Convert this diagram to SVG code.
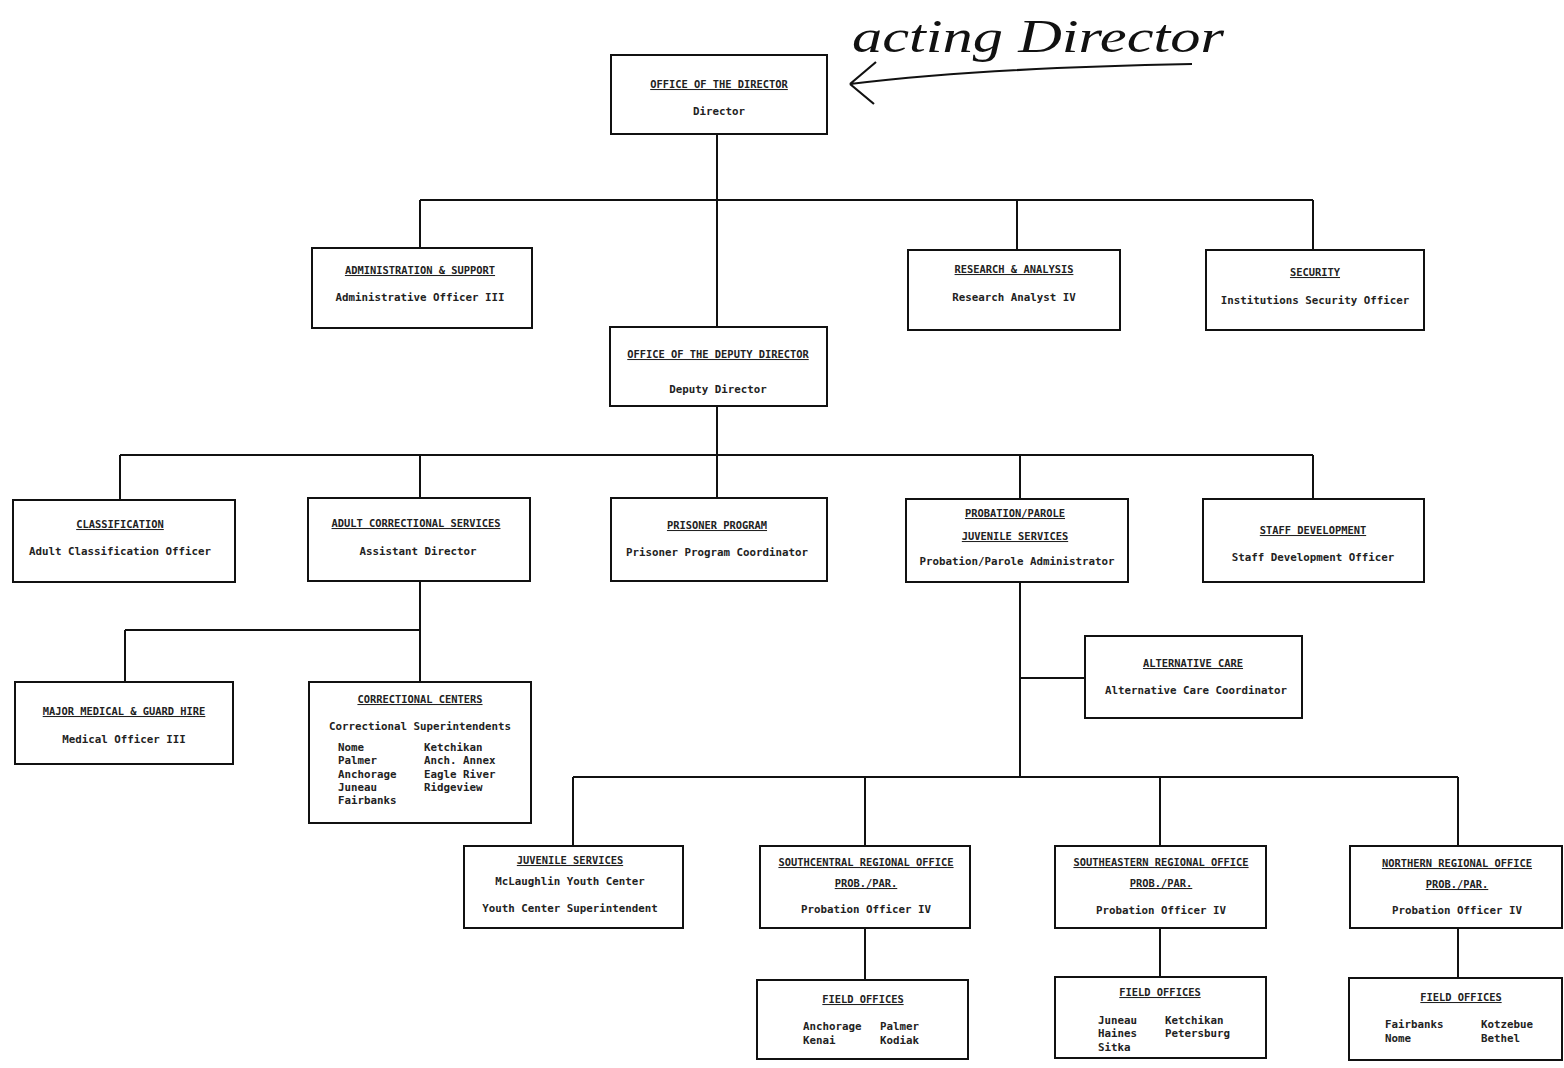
<svg xmlns="http://www.w3.org/2000/svg" width="1564" height="1068" viewBox="0 0 1564 1068">
<style>
.bx{fill:#fff;stroke:#111;stroke-width:2}
.t{font-family:"DejaVu Sans Mono","Liberation Mono",monospace;font-weight:bold;font-size:10.8px;fill:#222;text-anchor:middle}
.u{text-decoration:underline;font-size:10.4px}
.l{text-anchor:start}
.c{fill:none;stroke:#111;stroke-width:2}
.hw{font-family:"Liberation Serif",serif;font-style:italic;font-size:46px;fill:#111}
</style>
<rect width="1564" height="1068" fill="#fff"/>
<g id="connectors">
<path class="c" d="M717 134V327M420 200H1313M420 200V248M1017 200V250M1313 200V250"/>
<path class="c" d="M717 406V455M120 455H1313M120 455V500M420 455V498M717 455V498M1020 455V499M1313 455V499"/>
<path class="c" d="M420 581V630M125 630H420M125 630V682M420 630V682"/>
<path class="c" d="M1020 582V777M1020 678H1085M573 777H1458M573 777V846M865 777V846M1160 777V846M1458 777V846"/>
<path class="c" d="M865 928V980M1160 928V977M1458 928V978"/>
</g>
<g id="annotation">
<text class="hw" x="852" y="52" textLength="372" lengthAdjust="spacingAndGlyphs">acting Director</text>
<path d="M1192 64 C1080 66 950 72 850 84 M850 84 L876 62 M850 84 L874 104" fill="none" stroke="#111" stroke-width="2.2"/>
</g>
<g id="director"><rect class="bx" x="611" y="55" width="216" height="79"/>
<text class="t u" x="719" y="88">OFFICE OF THE DIRECTOR</text><text class="t" x="719" y="115">Director</text></g>
<g id="admin"><rect class="bx" x="312" y="248" width="220" height="80"/>
<text class="t u" x="420" y="274">ADMINISTRATION &amp; SUPPORT</text><text class="t" x="420" y="301">Administrative Officer III</text></g>
<g id="research"><rect class="bx" x="908" y="250" width="212" height="80"/>
<text class="t u" x="1014" y="273">RESEARCH &amp; ANALYSIS</text><text class="t" x="1014" y="301">Research Analyst IV</text></g>
<g id="security"><rect class="bx" x="1206" y="250" width="218" height="80"/>
<text class="t u" x="1315" y="276">SECURITY</text><text class="t" x="1315" y="304">Institutions Security Officer</text></g>
<g id="deputy"><rect class="bx" x="610" y="327" width="217" height="79"/>
<text class="t u" x="718" y="358">OFFICE OF THE DEPUTY DIRECTOR</text><text class="t" x="718" y="393">Deputy Director</text></g>
<g id="classification"><rect class="bx" x="13" y="500" width="222" height="82"/>
<text class="t u" x="120" y="528">CLASSIFICATION</text><text class="t" x="120" y="555">Adult Classification Officer</text></g>
<g id="adult"><rect class="bx" x="308" y="498" width="222" height="83"/>
<text class="t u" x="416" y="527">ADULT CORRECTIONAL SERVICES</text><text class="t" x="418" y="555">Assistant Director</text></g>
<g id="prisoner"><rect class="bx" x="611" y="498" width="216" height="83"/>
<text class="t u" x="717" y="529">PRISONER PROGRAM</text><text class="t" x="717" y="556">Prisoner Program Coordinator</text></g>
<g id="probation"><rect class="bx" x="906" y="499" width="222" height="83"/>
<text class="t u" x="1015" y="517">PROBATION/PAROLE</text><text class="t u" x="1015" y="540">JUVENILE SERVICES</text><text class="t" x="1017" y="565">Probation/Parole Administrator</text></g>
<g id="staff"><rect class="bx" x="1203" y="499" width="221" height="83"/>
<text class="t u" x="1313" y="534">STAFF DEVELOPMENT</text><text class="t" x="1313" y="561">Staff Development Officer</text></g>
<g id="medical"><rect class="bx" x="15" y="682" width="218" height="82"/>
<text class="t u" x="124" y="715">MAJOR MEDICAL &amp; GUARD HIRE</text><text class="t" x="124" y="743">Medical Officer III</text></g>
<g id="correctional"><rect class="bx" x="309" y="682" width="222" height="141"/>
<text class="t u" x="420" y="703">CORRECTIONAL CENTERS</text><text class="t" x="420" y="730">Correctional Superintendents</text>
<text class="t l" x="338" y="751">Nome</text><text class="t l" x="338" y="764">Palmer</text><text class="t l" x="338" y="778">Anchorage</text><text class="t l" x="338" y="791">Juneau</text><text class="t l" x="338" y="804">Fairbanks</text>
<text class="t l" x="424" y="751">Ketchikan</text><text class="t l" x="424" y="764">Anch. Annex</text><text class="t l" x="424" y="778">Eagle River</text><text class="t l" x="424" y="791">Ridgeview</text></g>
<g id="altcare"><rect class="bx" x="1085" y="636" width="217" height="82"/>
<text class="t u" x="1193" y="667">ALTERNATIVE CARE</text><text class="t" x="1196" y="694">Alternative Care Coordinator</text></g>
<g id="juvenile"><rect class="bx" x="464" y="846" width="219" height="82"/>
<text class="t u" x="570" y="864">JUVENILE SERVICES</text><text class="t" x="570" y="885">McLaughlin Youth Center</text><text class="t" x="570" y="912">Youth Center Superintendent</text></g>
<g id="southcentral"><rect class="bx" x="760" y="846" width="210" height="82"/>
<text class="t u" x="866" y="866">SOUTHCENTRAL REGIONAL OFFICE</text><text class="t u" x="866" y="887">PROB./PAR.</text><text class="t" x="866" y="913">Probation Officer IV</text></g>
<g id="southeastern"><rect class="bx" x="1055" y="846" width="211" height="82"/>
<text class="t u" x="1161" y="866">SOUTHEASTERN REGIONAL OFFICE</text><text class="t u" x="1161" y="887">PROB./PAR.</text><text class="t" x="1161" y="914">Probation Officer IV</text></g>
<g id="northern"><rect class="bx" x="1350" y="846" width="212" height="82"/>
<text class="t u" x="1457" y="867">NORTHERN REGIONAL OFFICE</text><text class="t u" x="1457" y="888">PROB./PAR.</text><text class="t" x="1457" y="914">Probation Officer IV</text></g>
<g id="field-sc"><rect class="bx" x="757" y="980" width="211" height="79"/>
<text class="t u" x="863" y="1003">FIELD OFFICES</text>
<text class="t l" x="803" y="1030">Anchorage</text><text class="t l" x="803" y="1044">Kenai</text><text class="t l" x="880" y="1030">Palmer</text><text class="t l" x="880" y="1044">Kodiak</text></g>
<g id="field-se"><rect class="bx" x="1055" y="977" width="211" height="81"/>
<text class="t u" x="1160" y="996">FIELD OFFICES</text>
<text class="t l" x="1098" y="1024">Juneau</text><text class="t l" x="1098" y="1037">Haines</text><text class="t l" x="1098" y="1051">Sitka</text><text class="t l" x="1165" y="1024">Ketchikan</text><text class="t l" x="1165" y="1037">Petersburg</text></g>
<g id="field-n"><rect class="bx" x="1349" y="978" width="213" height="82"/>
<text class="t u" x="1461" y="1001">FIELD OFFICES</text>
<text class="t l" x="1385" y="1028">Fairbanks</text><text class="t l" x="1385" y="1042">Nome</text><text class="t l" x="1481" y="1028">Kotzebue</text><text class="t l" x="1481" y="1042">Bethel</text></g>
</svg>
